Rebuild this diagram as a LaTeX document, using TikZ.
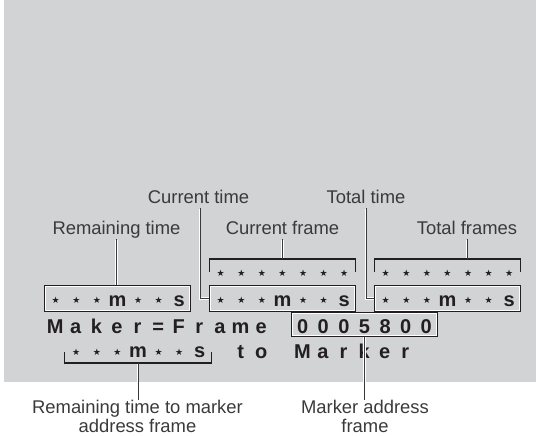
\documentclass[tikz,border=0pt]{standalone}
\usepackage{fontspec}
\setmainfont{Liberation Sans}
\newfontfamily\starfont{DejaVu Sans}
\definecolor{bg}{RGB}{209,211,212}
\definecolor{ink}{RGB}{35,31,32}
\definecolor{lbl}{RGB}{58,58,58}
\newcommand\cl[1]{\makebox[20.6pt]{#1}}
\newcommand\st{\cl{\raisebox{2.8pt}{\starfont\fontsize{9}{9}\selectfont ★}}}
\begin{document}
\begin{tikzpicture}[x=1pt,y=-1pt,
  lbltext/.style={font=\fontsize{18.4}{19}\selectfont, text=lbl, inner sep=0pt, anchor=base},
  disp/.style={font=\bfseries\fontsize{20}{20}\selectfont, text=ink, inner sep=0pt},
  dispbox/.style={disp, draw=ink, line width=1.1pt, minimum width=145pt, minimum height=25pt, text height=20pt, text depth=5pt},
  conn/.style={draw=lbl, line width=1pt, preaction={draw=white, line width=2.4pt, shorten >=0.8pt, shorten <=0.8pt}},
  brk/.style={draw=ink, line width=1.1pt},
  inner/.style={draw=white, line width=0.5pt}]
\useasboundingbox (0,0) rectangle (536,436);
\fill[bg] (4,0) rectangle (536,382);

% display row 1
\node[dispbox] (rt) at (117.5,298.5) {\st\st\st\cl{m}\st\st\cl{s}};
\node[dispbox] (ct) at (282.5,298.5) {\st\st\st\cl{m}\st\st\cl{s}};
\node[dispbox] (tt) at (447.5,298.5) {\st\st\st\cl{m}\st\st\cl{s}};
\node[disp, minimum width=145pt, text height=20pt, text depth=0pt, anchor=north] (cf) at (282.5,259) {\st\st\st\st\st\st\st};
\node[disp, minimum width=145pt, text height=20pt, text depth=0pt, anchor=north] (tf) at (447.5,259) {\st\st\st\st\st\st\st};

% display row 2
\node[disp, anchor=base west] (mk) at (44.7,333) {\cl{M}\cl{a}\cl{k}\cl{e}\cl{r}\cl{=}\cl{F}\cl{r}\cl{a}\cl{m}\cl{e}};
\node[dispbox, minimum height=23pt, text height=20pt, text depth=3pt] (addr) at (364.5,324.5) {\cl{0}\cl{0}\cl{0}\cl{5}\cl{8}\cl{0}\cl{0}};

% display row 3
\node[disp, minimum width=146pt, text height=14pt, text depth=5pt, anchor=south] (rm) at (138,363) {\st\st\st\cl{m}\st\st\cl{s}};
\node[disp, anchor=base west] (tomk) at (230.1,358) {\cl{t}\cl{o}\cl{}\cl{M}\cl{a}\cl{r}\cl{k}\cl{e}\cl{r}};

% inner light frames
\foreach \n in {rt,ct,tt,addr}
  \draw[inner] ([shift={(1.2pt,-1.2pt)}]\n.north west) rectangle ([shift={(-1.2pt,1.2pt)}]\n.south east);

% brackets
\draw[brk] ([yshift=-13pt]cf.north west) -- (cf.north west) -- (cf.north east) -- ([yshift=-13pt]cf.north east);
\draw[brk] ([yshift=-13pt]tf.north west) -- (tf.north west) -- (tf.north east) -- ([yshift=-13pt]tf.north east);
\draw[brk] ([yshift=11pt]rm.south west) -- (rm.south west) -- (rm.south east) -- ([yshift=11pt]rm.south east);

% labels
\node[lbltext] (curt) at (198.5,203) {Current time};
\node[lbltext] (tott) at (366,203) {Total time};
\node[lbltext] (remt) at (116.5,234) {Remaining time};
\node[lbltext] (curf) at (282.5,234) {Current frame};
\node[lbltext] (totf) at (467,234) {Total frames};
\node[lbltext, align=center, anchor=north] (remm) at (137.5,399.5) {Remaining time to marker\\address frame};
\node[lbltext, align=center, anchor=north] (mad) at (365,399.5) {Marker address\\frame};

% connectors
\draw[conn] ([yshift=-5pt]remt.base) -- (remt.base |- rt.north);
\draw[conn] ([xshift=1.5pt,yshift=-5pt]curt.base) |- (ct.west);
\draw[conn] ([yshift=-5pt]curf.base) -- (curf.base |- cf.north);
\draw[conn] ([yshift=-5pt]tott.base) |- (tt.west);
\draw[conn] ([yshift=-5pt]totf.base) -- (totf.base |- tf.north);
\draw[conn] (rm.south) -- (rm.south |- remm.north);
\draw[conn] (addr.south) -- (addr.south |- mad.north);
\end{tikzpicture}
\end{document}
